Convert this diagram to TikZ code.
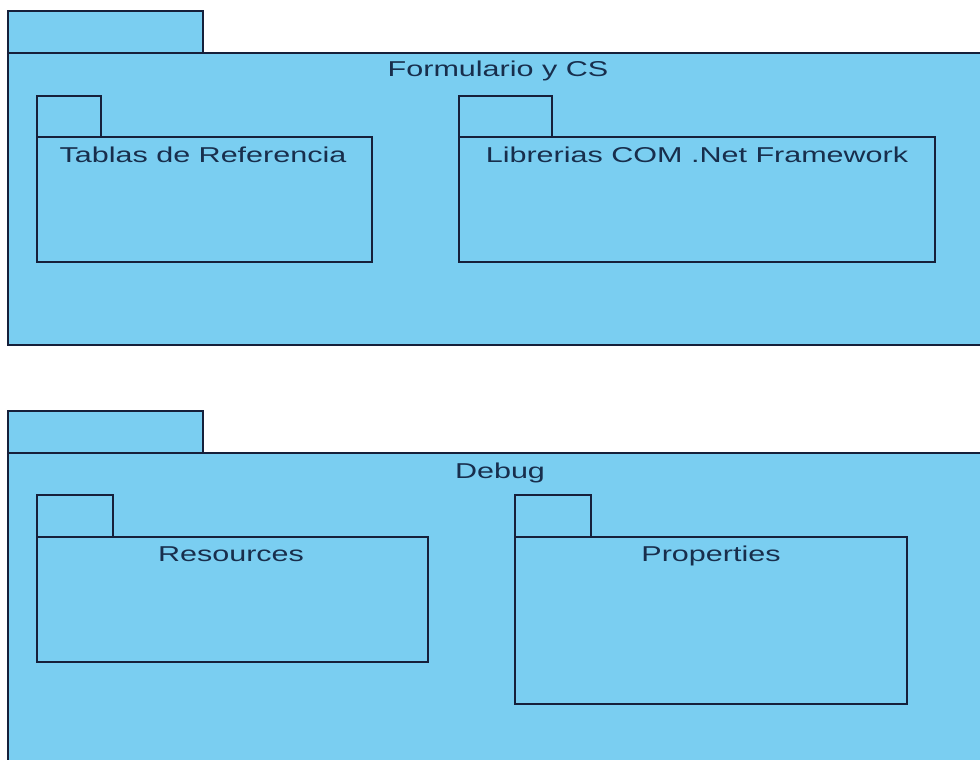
\documentclass[tikz,border=0pt]{standalone}
\usepackage{fontspec}
\setmainfont{Liberation Sans}
\definecolor{pkgfill}{RGB}{122,206,241}
\definecolor{pkgline}{RGB}{22,32,58}
\definecolor{pkgtext}{RGB}{24,46,76}
\tikzset{
  pkgbox/.style={draw=pkgline, fill=pkgfill, line width=1.9pt},
  pkglabel/.style={anchor=base, inner sep=0pt, text=pkgtext,
    font=\fontsize{21.5}{25}\selectfont},
}
\newcommand{\wide}[1]{\scalebox{1.42}[1]{#1}}
\begin{document}
\begin{tikzpicture}[x=1pt, y=-1pt]
  \fill[white] (0,0) rectangle (980,760);
  \clip (0,0) rectangle (980,760);

  % package: Formulario y CS
  \draw[pkgbox] (8,11) rectangle (203,53);
  \draw[pkgbox] (8,53) rectangle (995,345);
  \node[pkglabel] (formulario) at (498,77) {\wide{Formulario y CS}};

  % nested package: Tablas de Referencia
  \draw[pkgbox] (37,96) rectangle (101,137);
  \draw[pkgbox] (37,137) rectangle (372,262);
  \node[pkglabel] (tablas) at (203,162) {\wide{Tablas de Referencia}};

  % nested package: Librerias COM .Net Framework
  \draw[pkgbox] (459,96) rectangle (552,137);
  \draw[pkgbox] (459,137) rectangle (935,262);
  \node[pkglabel] (librerias) at (697,162) {\wide{Librerias COM .Net Framework}};

  % package: Debug
  \draw[pkgbox] (8,411) rectangle (203,453);
  \draw[pkgbox] (8,453) rectangle (995,775);
  \node[pkglabel] (debug) at (500,478) {\wide{Debug}};

  % nested package: Resources
  \draw[pkgbox] (37,495) rectangle (113,537);
  \draw[pkgbox] (37,537) rectangle (428,662);
  \node[pkglabel] (resources) at (231,561) {\wide{Resources}};

  % nested package: Properties
  \draw[pkgbox] (515,495) rectangle (591,537);
  \draw[pkgbox] (515,537) rectangle (907,704);
  \node[pkglabel] (properties) at (711,561) {\wide{Properties}};
\end{tikzpicture}
\end{document}
